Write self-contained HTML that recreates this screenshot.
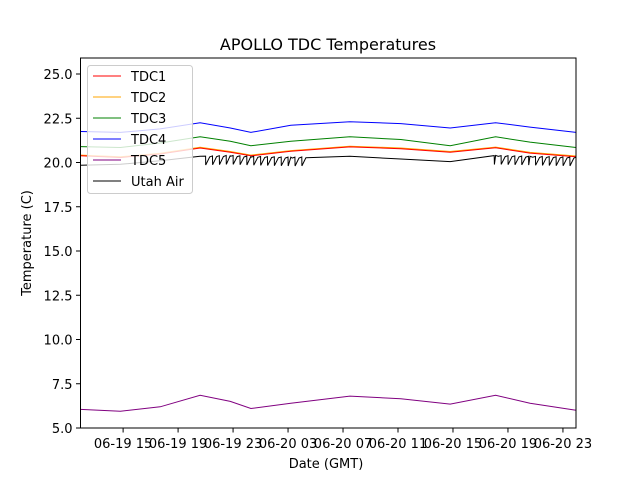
<!DOCTYPE html>
<html><head><meta charset="utf-8"><style>
body{margin:0;background:#fff}
svg{display:block;font-family:"DejaVu Sans","Liberation Sans",sans-serif}
</style></head><body>
<svg id="c" width="640" height="480" viewBox="0 0 640 480">
<rect width="640" height="480" fill="#fff"/>
<text x="328" y="50" font-size="16" text-anchor="middle">APOLLO TDC Temperatures</text>
<text x="326" y="468" font-size="13" text-anchor="middle">Date (GMT)</text>
<text transform="translate(31,243) rotate(-90)" font-size="13" text-anchor="middle">Temperature (C)</text>
<g id="plot"></g>
<g id="ticks"></g>
<g id="legend"></g>
</svg>
<script>
const xTickHours=[15,19,23,27,31,35,39,43,47];
const xTickLabels=["06-19 15","06-19 19","06-19 23","06-20 03","06-20 07","06-20 11","06-20 15","06-20 19","06-20 23"];
const yTicks=[5,7.5,10,12.5,15,17.5,20,22.5,25];
const hours=[11.9,14.8,17.7,20.6,22.8,24.3,27.2,31.5,35.2,38.8,42.1,44.6,47.95];
const tdc1=[20.38,20.28,20.48,20.82,20.58,20.38,20.63,20.88,20.78,20.58,20.83,20.53,20.33];
const tdc2=[20.42,20.32,20.52,20.86,20.62,20.42,20.67,20.92,20.82,20.62,20.87,20.57,20.37];
const tdc3=[20.9,20.85,21.1,21.45,21.2,20.95,21.2,21.45,21.3,20.95,21.45,21.15,20.85];
const tdc4=[21.75,21.7,21.9,22.25,21.95,21.7,22.1,22.3,22.2,21.95,22.25,22.0,21.7];
const tdc5=[6.05,5.95,6.2,6.85,6.5,6.1,6.4,6.8,6.65,6.35,6.85,6.4,6.0];
const utah=[19.85,19.9,20.1,20.35,20.4,20.35,20.3,20.35,20.2,20.05,20.4,20.35,20.3];
const utahSpikeHours=[21.0,21.5,22.0,22.5,23.0,23.5,24.0,24.5,25.0,25.5,26.0,26.5,27.0,27.5,28.0,42.0,42.5,43.0,43.5,44.0,44.5,45.0,45.5,46.0,46.5,47.0,47.5];
const utahSpikeDepth=0.5;
const X0=80.5,X1=576,HMIN=11.9,HMAX=47.95,Y0=58,Y1=428;
const sx=h=>X0+(h-HMIN)/(HMAX-HMIN)*(X1-X0);
const sy=v=>74+(25-v)*17.7;
const NS="http://www.w3.org/2000/svg";
function mk(t,a,p){const e=document.createElementNS(NS,t);for(const k in a)e.setAttribute(k,a[k]);p.appendChild(e);return e;}
function interp(hs,vs,h){for(let i=0;i<hs.length-1;i++){if(h<=hs[i+1]){const f=(h-hs[i])/(hs[i+1]-hs[i]);return vs[i]+f*(vs[i+1]-vs[i]);}}return vs[vs.length-1];}
const plot=document.getElementById('plot');
function line(vs,color,name,spikes){
  let pts=[];
  const all=hours.map((h,i)=>[h,vs[i]]);
  if(spikes){spikes.forEach(h=>{all.push([h,interp(hours,vs,h)]);all.push([h+0.01,interp(hours,vs,h)-utahSpikeDepth]);all.push([h+0.3,interp(hours,vs,h+0.3)-0.05]);});all.sort((a,b)=>a[0]-b[0]);}
  all.forEach(p=>pts.push(sx(p[0]).toFixed(1)+","+sy(p[1]).toFixed(1)));
  const e=mk('polyline',{points:pts.join(' '),fill:'none',stroke:color,'stroke-width':1},plot);
  
  
}
line(tdc4,'#0000ff','series-tdc4');
line(tdc3,'#008000','series-tdc3');
line(tdc2,'#ffa500','series-tdc2');
line(tdc1,'#ff0000','series-tdc1');
line(utah,'#000000','series-utah-air',utahSpikeHours);
line(tdc5,'#800080','series-tdc5');
const tk=document.getElementById('ticks');
const frame=mk('rect',{x:X0,y:Y0,width:X1-X0,height:Y1-Y0,fill:'none',stroke:'#000','stroke-width':1},tk);


yTicks.forEach(v=>{const y=sy(v);
  const l=mk('line',{x1:X0-4.5,x2:X0,y1:y,y2:y,stroke:'#000'},tk);
  
  
  const t=mk('text',{x:X0-8,y:y+5,'font-size':13,'text-anchor':'end'},tk);t.textContent=v.toFixed(1);
  
  });
xTickHours.forEach((h,i)=>{const x=sx(h);
  const l=mk('line',{x1:x,x2:x,y1:Y1,y2:Y1+4.5,stroke:'#000'},tk);
  
  
  const t=mk('text',{x:x,y:Y1+20,'font-size':13,'text-anchor':'middle'},tk);t.textContent=xTickLabels[i];
  
  });
const lg=document.getElementById('legend');
mk('rect',{x:87.5,y:65.5,width:105,height:128,rx:3,fill:'#fff','fill-opacity':0.8,stroke:'#ccc'},lg);
const names=["TDC1","TDC2","TDC3","TDC4","TDC5","Utah Air"];
const cols=['#ff0000','#ffa500','#008000','#0000ff','#800080','#000000'];
names.forEach((n,i)=>{const y=76+i*21;
  const l=mk('line',{x1:93,x2:121,y1:y,y2:y,stroke:cols[i],'stroke-width':1},lg);
  
  
  const t=mk('text',{x:131,y:y+5,'font-size':13},lg);t.textContent=n;
  
  });
</script>
</body></html>
